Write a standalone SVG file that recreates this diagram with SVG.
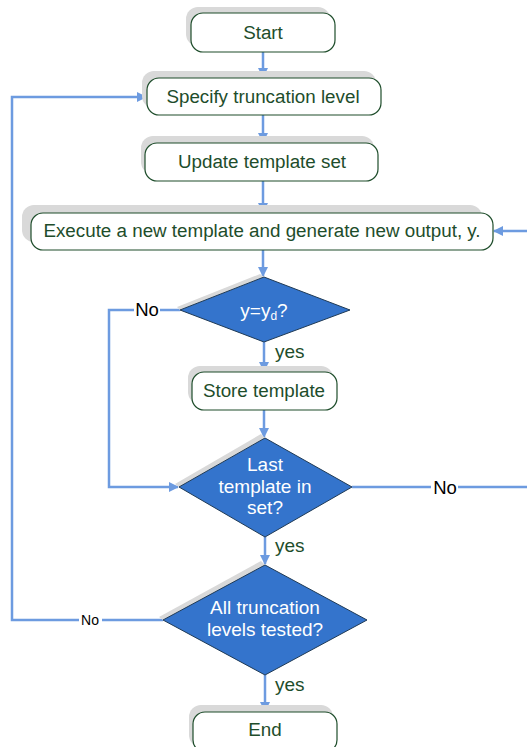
<svg xmlns="http://www.w3.org/2000/svg" width="527" height="747" viewBox="0 0 527 747">
<style>
.sh{fill:#d9d9d9;stroke:none}
.box{fill:#fff;stroke:#1e4d2b;stroke-width:1.2}
.dia{fill:#3474cc;stroke:#1f3a55;stroke-width:1}
.t{font-family:"Liberation Sans",Arial,sans-serif;font-size:18.8px;fill:#1e4d2b;text-anchor:middle}
.w{font-family:"Liberation Sans",Arial,sans-serif;font-size:19px;fill:#fff;text-anchor:middle}
.lbl{font-family:"Liberation Sans",Arial,sans-serif;font-size:18.5px;fill:#000;text-anchor:middle}
.yes{font-family:"Liberation Sans",Arial,sans-serif;font-size:19px;fill:#1e4d2b}
.c{fill:none;stroke:#6d9be0;stroke-width:2.5}
</style>
<defs>
<marker id="a" markerWidth="10" markerHeight="10" refX="9" refY="5" orient="auto" markerUnits="userSpaceOnUse">
<path d="M0,0 L10,5 L0,10 Z" fill="#6d9be0"/>
</marker>
</defs>
<rect width="527" height="747" fill="#fff"/>
<g id="connectors">
<line class="c" x1="263" y1="52" x2="263" y2="77" marker-end="url(#a)"/>
<line class="c" x1="263" y1="115" x2="263" y2="142" marker-end="url(#a)"/>
<line class="c" x1="263" y1="181" x2="263" y2="212" marker-end="url(#a)"/>
<line class="c" x1="263" y1="250" x2="263" y2="276" marker-end="url(#a)"/>
<line class="c" x1="264" y1="342" x2="264" y2="371" marker-end="url(#a)"/>
<line class="c" x1="264" y1="410" x2="264" y2="437" marker-end="url(#a)"/>
<line class="c" x1="265" y1="537" x2="265" y2="564" marker-end="url(#a)"/>
<line class="c" x1="265" y1="675" x2="265" y2="711" marker-end="url(#a)"/>
<polyline class="c" points="163,620 102,620"/>
<polyline class="c" points="79,620 12,620 12,97 146,97" marker-end="url(#a)"/>
<polyline class="c" points="180,310 160,310"/>
<polyline class="c" points="134,310 109,310 109,487 178,487" marker-end="url(#a)"/>
<polyline class="c" points="352,487 431,487"/>
<polyline class="c" points="458,487 527,487"/>
<line class="c" x1="527" y1="231" x2="494" y2="231" marker-end="url(#a)"/>
<text class="lbl" x="147" y="316">No</text>
<text class="lbl" x="445" y="494">No</text>
<text class="lbl" x="90" y="625" style="font-size:14px">No</text>
<text class="yes" x="275" y="358">yes</text>
<text class="yes" x="275" y="552">yes</text>
<text class="yes" x="275" y="691">yes</text>
</g>
<g id="start">
<rect class="sh" x="186" y="7" width="144" height="39" rx="12"/>
<rect class="box" x="191" y="13" width="144" height="39" rx="12"/>
<text class="t" x="263" y="39">Start</text>
</g>
<g id="specify">
<rect class="sh" x="142" y="71" width="234" height="37" rx="12"/>
<rect class="box" x="147" y="78" width="234" height="37" rx="12"/>
<text class="t" x="263" y="103">Specify truncation level</text>
</g>
<g id="update">
<rect class="sh" x="141" y="136" width="233" height="38" rx="12"/>
<rect class="box" x="145" y="143" width="233" height="38" rx="12"/>
<text class="t" x="262" y="168">Update template set</text>
</g>
<g id="execute">
<rect class="sh" x="22" y="205" width="460" height="37" rx="12"/>
<rect class="box" x="31" y="213" width="462" height="37" rx="12"/>
<text class="t" x="262" y="237">Execute a new template and generate new output, y.</text>
</g>
<g id="d1">
<polygon class="sh" points="177,307 260,274 264,277 180,310"/>
<polygon class="dia" points="264,277 350,310 264,342 180,310"/>
<text class="w" x="264" y="317">y=y<tspan style="font-size:12px" dy="3">d</tspan><tspan dy="-3">?</tspan></text>
</g>
<g id="store">
<rect class="sh" x="188" y="366" width="145" height="38" rx="12"/>
<rect class="box" x="192" y="372" width="145" height="38" rx="12"/>
<text class="t" x="264" y="397">Store template</text>
</g>
<g id="d2">
<polygon class="sh" points="175,484 261,434 265,438 179,487"/>
<polygon class="dia" points="265,438 352,487 265,537 179,487"/>
<text class="w" x="265" y="471">Last</text>
<text class="w" x="265" y="493">template in</text>
<text class="w" x="265" y="514">set?</text>
</g>
<g id="d3">
<polygon class="sh" points="159,617 261,561 265,565 163,620"/>
<polygon class="dia" points="265,565 367,620 265,675 163,620"/>
<text class="w" x="265" y="614">All truncation</text>
<text class="w" x="265" y="636">levels tested?</text>
</g>
<g id="end">
<rect class="sh" x="189" y="705" width="144" height="42" rx="12"/>
<rect class="box" x="193" y="712" width="144" height="40" rx="12"/>
<text class="t" x="265" y="736">End</text>
</g>
</svg>
